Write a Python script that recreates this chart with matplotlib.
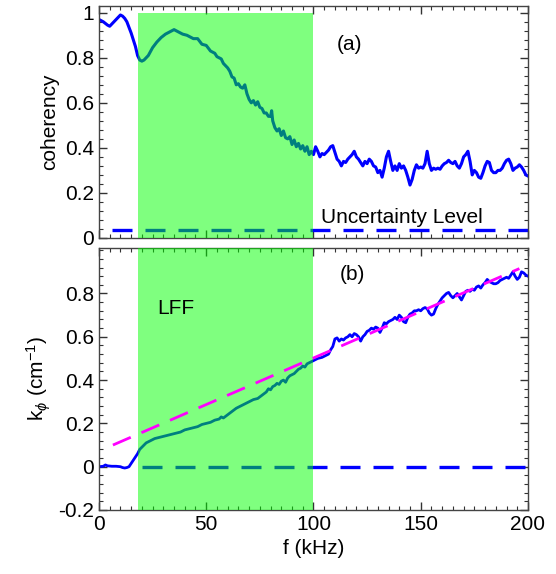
import numpy as np
import matplotlib
matplotlib.use("Agg")
import matplotlib.pyplot as plt
from matplotlib.ticker import MultipleLocator

plt.rcParams['font.family'] = ['Liberation Sans', 'DejaVu Sans']
plt.rcParams['mathtext.fontset'] = 'custom'
plt.rcParams['mathtext.rm'] = 'Liberation Sans'
plt.rcParams['mathtext.it'] = 'Liberation Sans:italic'

# ---- data ----
coh_f = [0, 2, 4, 5, 7, 9, 10, 11, 12, 13, 14, 15, 16, 17, 18, 19, 20, 21, 23, 25,
         27, 29, 31, 33, 35, 37, 39, 41, 43, 44, 46, 48, 50, 52, 54, 55, 56, 57, 58, 60,
         61, 62, 63, 64, 65, 66, 67, 68, 69, 70, 71, 72, 73, 74, 75, 76, 77, 78, 79, 80,
         80.5, 81, 82, 83, 84, 85, 86, 87, 88, 89, 90, 91, 92, 93, 94, 95, 96, 97, 98, 99,
         100, 101, 102, 103, 104, 105, 106, 107, 108, 109, 110, 111, 112, 113, 114, 115, 116, 117, 118, 119,
         120, 121, 122, 123, 124, 125, 126, 127, 128, 129, 130, 131, 132, 133, 134, 135, 136, 137, 138, 139,
         140, 141, 142, 143, 144, 145, 146, 147, 148, 149, 150, 151, 152, 153, 154, 155, 156, 157, 158, 159,
         160, 161, 162, 163, 164, 165, 166, 167, 168, 169, 170, 171, 172, 173, 174, 175, 176, 177, 178, 179,
         180, 181, 182, 183, 184, 185, 186, 187, 188, 189, 190, 191, 192, 193, 194, 195, 196, 197, 198, 199, 200]
coh = [0.97, 0.96, 0.945, 0.94, 0.96, 0.98, 0.99, 0.985, 0.975, 0.96, 0.935, 0.91, 0.88, 0.85, 0.81, 0.79, 0.785, 0.79, 0.81, 0.845,
       0.87, 0.89, 0.905, 0.915, 0.925, 0.915, 0.905, 0.9, 0.89, 0.885, 0.885, 0.86, 0.855, 0.83, 0.82, 0.805, 0.8, 0.795, 0.775, 0.755,
       0.74, 0.715, 0.71, 0.68, 0.685, 0.67, 0.665, 0.68, 0.64, 0.615, 0.6, 0.61, 0.59, 0.605, 0.58, 0.575, 0.555, 0.555, 0.54, 0.54,
       0.565, 0.52, 0.49, 0.475, 0.485, 0.455, 0.475, 0.445, 0.44, 0.45, 0.415, 0.435, 0.405, 0.42, 0.395, 0.41, 0.385, 0.405, 0.37, 0.385,
       0.37, 0.405, 0.385, 0.36, 0.375, 0.37, 0.38, 0.39, 0.405, 0.41, 0.38, 0.35, 0.34, 0.32, 0.34, 0.335, 0.35, 0.36, 0.37, 0.385,
       0.36, 0.35, 0.335, 0.32, 0.34, 0.33, 0.35, 0.34, 0.32, 0.315, 0.29, 0.3, 0.27, 0.31, 0.36, 0.385, 0.34, 0.3, 0.32, 0.3,
       0.33, 0.31, 0.32, 0.3, 0.27, 0.235, 0.26, 0.3, 0.325, 0.31, 0.315, 0.31, 0.33, 0.385, 0.33, 0.3, 0.31, 0.305, 0.31, 0.305,
       0.32, 0.33, 0.335, 0.345, 0.335, 0.33, 0.34, 0.32, 0.31, 0.33, 0.36, 0.37, 0.385, 0.34, 0.28, 0.3, 0.29, 0.27, 0.265, 0.29,
       0.32, 0.34, 0.335, 0.3, 0.29, 0.29, 0.3, 0.3, 0.31, 0.33, 0.345, 0.35, 0.33, 0.3, 0.31, 0.315, 0.325, 0.315, 0.3, 0.28, 0.275]

k_f = [0, 2, 3, 4, 6, 8, 10, 11, 12, 13, 14, 15, 16, 17, 18, 19, 20, 21, 22, 24,
       26, 28, 30, 32, 34, 36, 38, 40, 42, 44, 46, 48, 50, 52, 54, 56, 57, 58, 60, 62,
       64, 66, 68, 70, 72, 74, 76, 78, 79, 80, 81, 82, 83, 84, 85, 86, 87, 88, 89, 90,
       91, 92, 93, 94, 95, 96, 97, 98, 99, 100, 102, 104, 106, 107, 108, 109, 110, 111, 112, 113,
       114, 115, 116, 117, 118, 119, 120, 121, 122, 123, 124, 125, 126, 127, 128, 129, 130, 131, 132, 133,
       134, 135, 136, 137, 138, 139, 140, 141, 142, 143, 144, 145, 146, 147, 148, 149, 150, 151, 152, 153,
       154, 155, 156, 157, 158, 159, 160, 161, 162, 163, 164, 165, 166, 167, 168, 169, 170, 171, 172, 173,
       174, 175, 176, 177, 178, 179, 180, 181, 182, 183, 184, 185, 186, 187, 188, 189, 190, 191, 192, 193,
       194, 195, 196, 197, 198, 199, 200]
k_phi = [0.0, 0.002, 0.008, 0.004, 0.002, 0.002, 0.0, -0.004, -0.006, -0.004, 0.0, 0.015, 0.03, 0.045, 0.06, 0.08, 0.09, 0.1, 0.11, 0.12,
         0.13, 0.135, 0.14, 0.145, 0.15, 0.155, 0.16, 0.17, 0.175, 0.18, 0.185, 0.195, 0.2, 0.205, 0.215, 0.22, 0.23, 0.225, 0.24, 0.255,
         0.27, 0.28, 0.29, 0.3, 0.31, 0.315, 0.33, 0.345, 0.36, 0.355, 0.37, 0.375, 0.385, 0.38, 0.395, 0.4, 0.39, 0.41, 0.42, 0.425,
         0.43, 0.44, 0.45, 0.455, 0.465, 0.46, 0.475, 0.48, 0.485, 0.49, 0.5, 0.505, 0.515, 0.52, 0.54, 0.555, 0.59, 0.595, 0.58, 0.59,
         0.585, 0.595, 0.6, 0.61, 0.6, 0.615, 0.61, 0.6, 0.58, 0.6, 0.61, 0.625, 0.63, 0.64, 0.635, 0.645, 0.64, 0.62, 0.64, 0.665,
         0.66, 0.67, 0.675, 0.68, 0.69, 0.68, 0.7, 0.69, 0.67, 0.665, 0.69, 0.705, 0.71, 0.72, 0.72, 0.725, 0.72, 0.73, 0.735, 0.73,
         0.71, 0.7, 0.705, 0.73, 0.75, 0.765, 0.78, 0.79, 0.8, 0.805, 0.79, 0.78, 0.79, 0.8, 0.785, 0.77, 0.79, 0.81, 0.815, 0.81,
         0.82, 0.815, 0.83, 0.835, 0.825, 0.84, 0.85, 0.865, 0.855, 0.85, 0.845, 0.845, 0.85, 0.86, 0.865, 0.87, 0.875, 0.87, 0.885, 0.9,
         0.88, 0.865, 0.875, 0.9, 0.895, 0.885, 0.88]

fit_f = [6.5, 196]
fit_k = [0.10, 0.915]

uncertainty_f = [6, 200]
uncertainty = [0.035, 0.035]
zero_f = [20, 200]
zero_k = [0, 0]

lff_band = (18.3, 100)

# ---- figure ----
fig = plt.figure(figsize=(5.56, 5.74), dpi=100)
ax1 = fig.add_axes([0.178, 0.5854, 0.7716, 0.4042])
ax2 = fig.add_axes([0.178, 0.1115, 0.7716, 0.4564])

blue = '#0000ff'
green = (0.0, 1.0, 0.0)

# top panel
ax1.plot(coh_f, coh, color=blue, lw=2.2, zorder=2)
ax1.plot(uncertainty_f, uncertainty, color=blue, lw=2.4, dashes=(6.0, 3.9), zorder=2)
ax1.fill_between(lff_band, 0, 1.0, color=green, alpha=0.5, lw=0, zorder=3)
ax1.text(117, 0.86, '(a)', fontsize=15, ha='center', va='center')
ax1.text(141, 0.09, 'Uncertainty Level', fontsize=15, ha='center', va='center')
ax1.set_xlim(0, 200)
ax1.set_ylim(0, 1.03)
ax1.set_ylabel('coherency', fontsize=15)
ax1.set_xticklabels([])
ax1.set_yticks([0, 0.2, 0.4, 0.6, 0.8, 1.0])
ax1.set_yticklabels(['0', '0.2', '0.4', '0.6', '0.8', '1'])
ax1.yaxis.set_minor_locator(MultipleLocator(0.04))

# bottom panel
ax2.plot(k_f, k_phi, color=blue, lw=2.0, zorder=2)
ax2.plot(zero_f, zero_k, color=blue, lw=2.4, dashes=(6.0, 3.9), zorder=2)
ax2.axvspan(lff_band[0], lff_band[1], color=green, alpha=0.5, lw=0, zorder=3)
ax2.plot(fit_f, fit_k, color='#ff00ff', lw=2.0, dashes=(7.0, 4.2), zorder=4)
ax2.text(118, 0.89, '(b)', fontsize=15, ha='center', va='center')
ax2.text(36, 0.73, 'LFF', fontsize=15, ha='center', va='center')
ax2.set_xlim(0, 200)
ax2.set_ylim(-0.2, 1.01)
ax2.set_xlabel('f (kHz)', fontsize=15)
ax2.set_ylabel(r'k$_\phi$ (cm$^{-1}$)', fontsize=15)
ax2.set_yticks([-0.2, 0, 0.2, 0.4, 0.6, 0.8])
ax2.set_yticklabels(['-0.2', '0', '0.2', '0.4', '0.6', '0.8'])
ax2.yaxis.set_minor_locator(MultipleLocator(0.04))

for ax in (ax1, ax2):
    ax.xaxis.set_major_locator(MultipleLocator(50))
    ax.xaxis.set_minor_locator(MultipleLocator(5))
    ax.tick_params(which='both', direction='in', top=True, right=True,
                   labelsize=15, color='#333333')
    ax.tick_params(which='major', length=6, width=1)
    ax.tick_params(which='minor', length=3, width=0.8)
    for s in ax.spines.values():
        s.set_color('#444444')
        s.set_linewidth(1.0)

fig.savefig('out.png', dpi=100)
